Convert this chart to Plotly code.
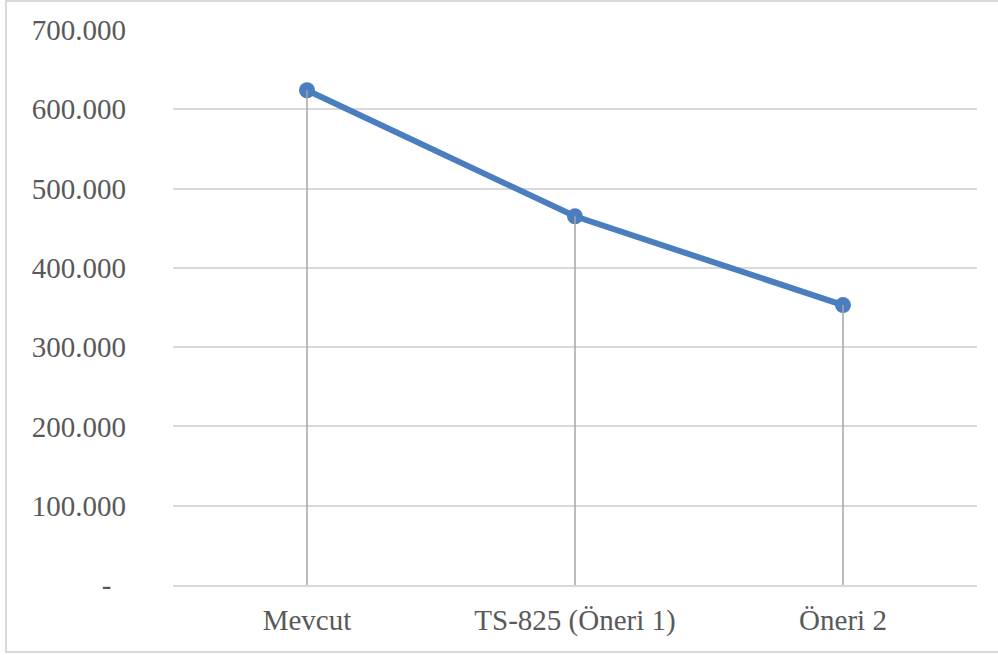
import plotly.graph_objects as go

# Values per scenario
categories = ["Mevcut", "TS-825 (Öneri 1)", "Öneri 2"]
values = [624000, 465000, 353000]

# Y axis ticks (Turkish thousands separator, zero shown as a dash)
y_tickvals = [0, 100000, 200000, 300000, 400000, 500000, 600000, 700000]
y_ticktext = ["-\u2007", "100.000", "200.000", "300.000", "400.000",
              "500.000", "600.000", "700.000"]

W, H = 998, 655
L, R, T, B = 173, 21, 30, 70

line_color = "#4a7ebf"
drop_color = "#a6a6a6"
grid_color = "#d9d9d9"
text_color = "#595959"
font_family = "Liberation Serif, Times New Roman, serif"

fig = go.Figure()

fig.add_trace(go.Scatter(
    x=categories, y=values, mode="lines+markers",
    line=dict(color=line_color, width=6),
    marker=dict(color=line_color, size=16),
    hoverinfo="skip", showlegend=False,
))

# Drop lines from each point down to the category axis
for c, v in zip(categories, values):
    fig.add_trace(go.Scatter(
        x=[c, c], y=[0, v], mode="lines",
        line=dict(color=drop_color, width=1.5),
        hoverinfo="skip", showlegend=False,
    ))

pw = W - L - R
ph = H - T - B
# Chart border (pixel positions converted to paper coordinates)
bx0, bx1, by0, by1 = 6, 1000, 1, 652
fig.add_shape(
    type="rect", xref="paper", yref="paper",
    x0=(bx0 - L) / pw, x1=(bx1 - L) / pw,
    y0=(H - B - by1) / ph, y1=(H - B - by0) / ph,
    line=dict(color="#d9d9d9", width=2), fillcolor="rgba(0,0,0,0)",
    layer="below",
)

fig.update_layout(
    width=W, height=H,
    margin=dict(l=L, r=R, t=T, b=B, autoexpand=False),
    paper_bgcolor="white", plot_bgcolor="white",
    font=dict(family=font_family, size=29, color=text_color),
    xaxis=dict(
        type="category", showgrid=False, zeroline=False,
        showline=True, linecolor=grid_color, linewidth=1.5,
        ticks="", ticklabelstandoff=8, automargin=False,
        range=[-0.5, 2.5],
    ),
    yaxis=dict(
        range=[0, 700000], tickvals=y_tickvals, ticktext=y_ticktext,
        showgrid=True, gridcolor=grid_color, gridwidth=1.5,
        zeroline=False, showline=False, ticks="", automargin=False,
        ticklabelstandoff=46,
    ),
)

fig.write_html("out.html")
